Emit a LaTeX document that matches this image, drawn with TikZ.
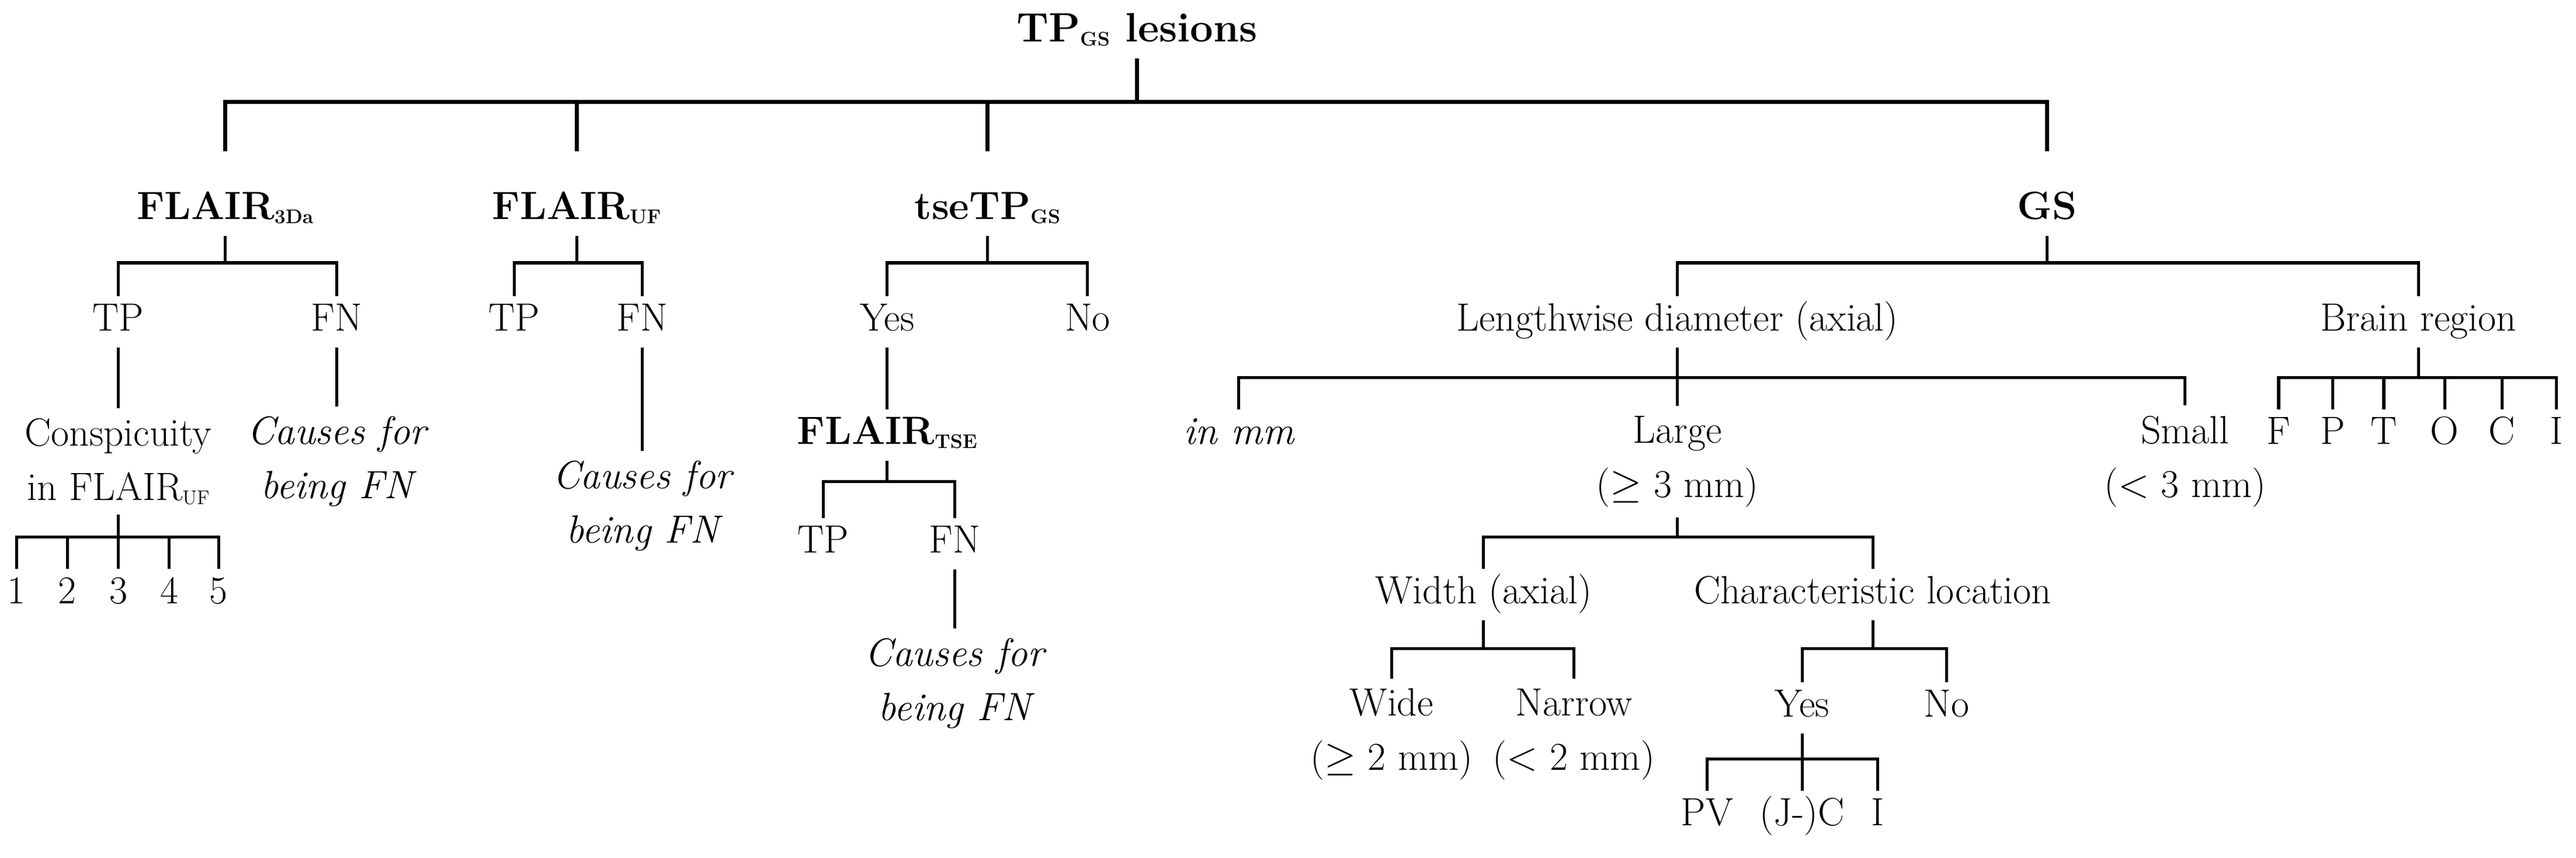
\documentclass[tikz,border=0pt]{standalone}
\newcommand\mysub[1]{\raisebox{-0.1em}{\fontsize{12}{12}\selectfont #1}}
\begin{document}
\begin{tikzpicture}[x=1pt,y=-1pt,
  n/.style={inner xsep=2pt,inner ysep=5pt,font=\fontsize{24}{33}\selectfont,text height=16pt,text depth=5pt},
  m/.style={inner xsep=2pt,inner ysep=6pt,font=\fontsize{24}{33}\selectfont,align=center},
  mi/.style={m,font=\fontsize{24}{33}\selectfont\itshape},
  b/.style={n,font=\fontsize{24}{33}\selectfont\bfseries},
  e/.style={line width=1.8pt}]
\useasboundingbox (0,0) rectangle (1568,522);
\node[b,font=\fontsize{25}{30}\selectfont\bfseries] (root) at (692,20) {TP\mysub{GS} lesions};
\node[b] (f3d) at (137,128) {FLAIR\mysub{3Da}};
\node[b] (fuf) at (351,128) {FLAIR\mysub{UF}};
\node[b] (tse) at (601,128) {tseTP\mysub{GS}};
\node[b] (gs) at (1246,128) {GS};
\foreach \c in {f3d,fuf,tse,gs} \draw[e,line width=2.4pt] (root.south) -- (root.south |- 0,62) -| (\c.north |- 0,92);
% FLAIR3Da
\node[n] (tp1) at (72,196) {TP};
\node[n] (fn1) at (205,196) {FN};
\foreach \c in {tp1,fn1} \draw[e] (f3d.south) -- (f3d.south |- 0,160) -| (\c.north);
\node[m] (con) at (72,281) {Conspicuity\\in FLAIR\mysub{UF}};
\draw[e] (tp1) -- (con);
\node[mi] (cf1) at (205,281) {Causes for\\being FN};
\draw[e] (fn1) -- (cf1);
\foreach \i/\x in {1/10,2/41,3/72,4/103,5/133} {
  \node[n] (c\i) at (\x,362) {\i};
  \draw[e] (con.south) -- (con.south |- 0,327) -| (c\i.north);
}
% FLAIRUF
\node[n] (tp2) at (313,196) {TP};
\node[n] (fn2) at (391,196) {FN};
\foreach \c in {tp2,fn2} \draw[e] (fuf.south) -- (fuf.south |- 0,160) -| (\c.north);
\node[mi] (cf2) at (391,308) {Causes for\\being FN};
\draw[e] (fn2) -- (cf2);
% tseTPGS
\node[n] (yes1) at (540,196) {Yes};
\node[n] (no1) at (662,196) {No};
\foreach \c in {yes1,no1} \draw[e] (tse.south) -- (tse.south |- 0,160) -| (\c.north);
\node[b] (ftse) at (540,265) {FLAIR\mysub{TSE}};
\draw[e] (yes1) -- (ftse);
\node[n] (tp3) at (501,331) {TP};
\node[n] (fn3) at (581,331) {FN};
\foreach \c in {tp3,fn3} \draw[e] (ftse.south) -- (ftse.south |- 0,293) -| (\c.north);
\node[mi] (cf3) at (581,416) {Causes for\\being FN};
\draw[e] (fn3) -- (cf3);
% GS
\node[n] (len) at (1021,196) {Lengthwise diameter (axial)};
\node[n] (brain) at (1472,196) {Brain region};
\foreach \c in {len,brain} \draw[e] (gs.south) -- (gs.south |- 0,160) -| (\c.north);
\node[n,font=\fontsize{24}{33}\selectfont\itshape] (mm) at (754,265) {in mm};
\node[m] (large) at (1021,281) {Large\\($\geq$ 3 mm)};
\node[m] (small) at (1330,281) {Small\\($<$ 3 mm)};
\foreach \c in {mm,large,small} \draw[e] (len.south) -- (len.south |- 0,230) -| (\c.north);
\foreach \l/\x in {F/1387,P/1420,T/1451,O/1488,C/1523,I/1556} {
  \node[n] (r\l) at (\x,265) {\l};
  \draw[e] (brain.south) -- (brain.south |- 0,230) -| (r\l.north);
}
\node[n] (wid) at (903,362) {Width (axial)};
\node[n] (loc) at (1140,362) {Characteristic location};
\foreach \c in {wid,loc} \draw[e] (large.south) -- (large.south |- 0,327) -| (\c.north);
\node[m] (wide) at (847,447) {Wide\\($\geq$ 2 mm)};
\node[m] (nar) at (958,447) {Narrow\\($<$ 2 mm)};
\foreach \c in {wide,nar} \draw[e] (wid.south) -- (wid.south |- 0,395) -| (\c.north);
\node[n] (yes2) at (1097,431) {Yes};
\node[n] (no2) at (1185,431) {No};
\foreach \c in {yes2,no2} \draw[e] (loc.south) -- (loc.south |- 0,395) -| (\c.north);
\node[n] (pv) at (1039,497) {PV};
\node[n] (jc) at (1097,497) {(J-)C};
\node[n] (ii) at (1143,497) {I};
\foreach \c in {pv,jc,ii} \draw[e] (yes2.south) -- (yes2.south |- 0,462) -| (\c.north);
\end{tikzpicture}
\end{document}
